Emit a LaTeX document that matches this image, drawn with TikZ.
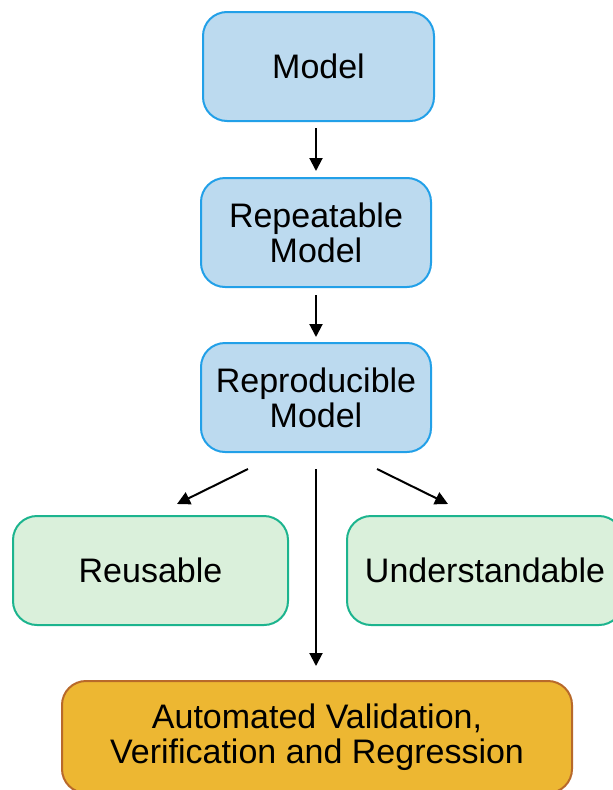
\documentclass[tikz,border=0pt]{standalone}
\usepackage{fontspec}
\setmainfont{Liberation Sans}
\usetikzlibrary{arrows.meta,positioning}
\definecolor{rmBlue}{HTML}{22A0E8}
\definecolor{rmBlueFill}{HTML}{BCDAEF}
\definecolor{rmGreen}{HTML}{1CB48E}
\definecolor{rmGreenFill}{HTML}{DAF0DB}
\definecolor{rmGold}{HTML}{EDB732}
\definecolor{rmGoldLine}{HTML}{B8692A}
\definecolor{rmInk}{HTML}{000000}
\tikzset{
  rmArrow/.style={-{Triangle[length=13pt,width=13pt]},line width=2pt,draw=rmInk},
  rmStage/.style={draw=rmBlue,fill=rmBlueFill,rounded corners=24pt,
    line width=2pt,font=\fontsize{34}{35}\selectfont,text=rmInk,
    align=center,inner sep=0pt,minimum width=230pt,minimum height=109pt},
  rmTrait/.style={rmStage,draw=rmGreen,fill=rmGreenFill,minimum width=275pt},
  rmGoal/.style={rmStage,draw=rmGoldLine,fill=rmGold,minimum width=510pt}
}
\begin{document}
\begin{tikzpicture}[x=1pt,y=1pt]
\path[use as bounding box] (0,0) rectangle (613,-790);
\clip (0,0) rectangle (613,-790);
\node[rmStage,minimum width=231pt] (model) at (318.5,-66.5) {Model};
\node[rmStage] (repeat) at (316,-232.5) {Repeatable\\Model};
\node[rmStage] (repro) at (316,-397.5) {Reproducible\\Model};
\node[rmTrait] (reuse) at (150.5,-570.5) {Reusable};
\node[rmTrait,minimum width=276pt] (underst) at (485,-570.5) {Understandable};
\node[rmGoal,minimum height=112pt] (auto) at (317,-737)
  {Automated Validation,\\Verification and Regression};
\draw[rmArrow,shorten <=6pt,shorten >=6pt] (model.south -| repeat.north) -- (repeat.north);
\draw[rmArrow,shorten <=7pt,shorten >=5pt] (repeat) -- (repro);
\draw[rmArrow] ([xshift=-68pt,yshift=-16pt]repro.south) -- ([xshift=26.5pt,yshift=11pt]reuse.north);
\draw[rmArrow] ([xshift=61pt,yshift=-16pt]repro.south) -- ([xshift=-37pt,yshift=11pt]underst.north);
\draw[rmArrow,shorten <=16pt,shorten >=14pt] (repro.south) -- (repro.south |- auto.north);
\end{tikzpicture}
\end{document}
